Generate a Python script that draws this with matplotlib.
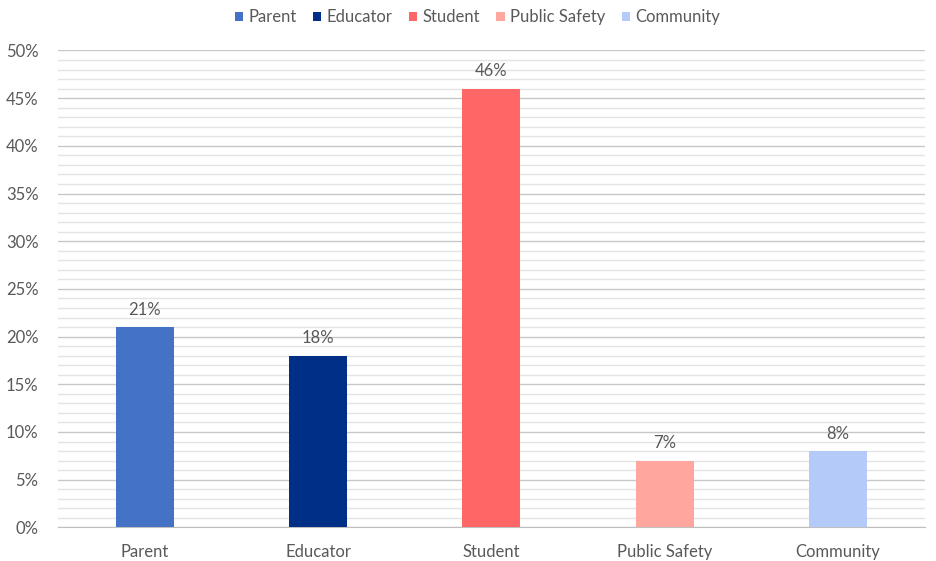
import matplotlib.pyplot as plt
from matplotlib.ticker import MultipleLocator, FuncFormatter

categories = ["Parent", "Educator", "Student", "Public Safety", "Community"]
shares = [21, 18, 46, 7, 8]
colors = ["#4472C4", "#002F87", "#FF6666", "#FFA69E", "#B4CBFA"]

plt.rcParams['font.family'] = ['Lato', 'DejaVu Sans']
text_color = "#595959"

fig = plt.figure(figsize=(9.36, 5.61), dpi=100)
ax = fig.add_axes([0.062, 0.06, 0.926, 0.85])

x = range(len(categories))
for i, (cat, val, col) in enumerate(zip(categories, shares, colors)):
    ax.bar(i, val, width=0.335, color=col, label=cat, zorder=3)
    ax.text(i, val + 1.0, f"{val}%", ha="center", va="bottom",
            fontsize=12, color=text_color)

ax.set_xlim(-0.5, len(categories) - 0.5)
ax.set_ylim(0, 50)
ax.yaxis.set_major_locator(MultipleLocator(5))
ax.yaxis.set_minor_locator(MultipleLocator(1))
ax.yaxis.set_major_formatter(FuncFormatter(lambda v, p: f"{v:.0f}%"))
ax.grid(axis="y", which="major", color="#C8C8C8", linewidth=1.0, zorder=0)
ax.grid(axis="y", which="minor", color="#E4E4E4", linewidth=1.0, zorder=0)
ax.set_axisbelow(True)

ax.set_xticks(list(x))
ax.set_xticklabels(categories)
ax.tick_params(axis="both", which="both", length=0, labelsize=12,
               labelcolor=text_color)
ax.tick_params(axis="x", pad=12)
ax.tick_params(axis="y", pad=14)

for side in ["top", "right", "left"]:
    ax.spines[side].set_visible(False)
ax.spines["bottom"].set_color("#BFBFBF")

leg = fig.legend(loc="upper center", ncol=5, frameon=False, fontsize=12,
                 bbox_to_anchor=(0.51, 1.01), handlelength=0.5, handleheight=0.5,
                 handletextpad=0.3, columnspacing=1.0)
for t in leg.get_texts():
    t.set_color(text_color)

fig.savefig("out.png", dpi=100)
